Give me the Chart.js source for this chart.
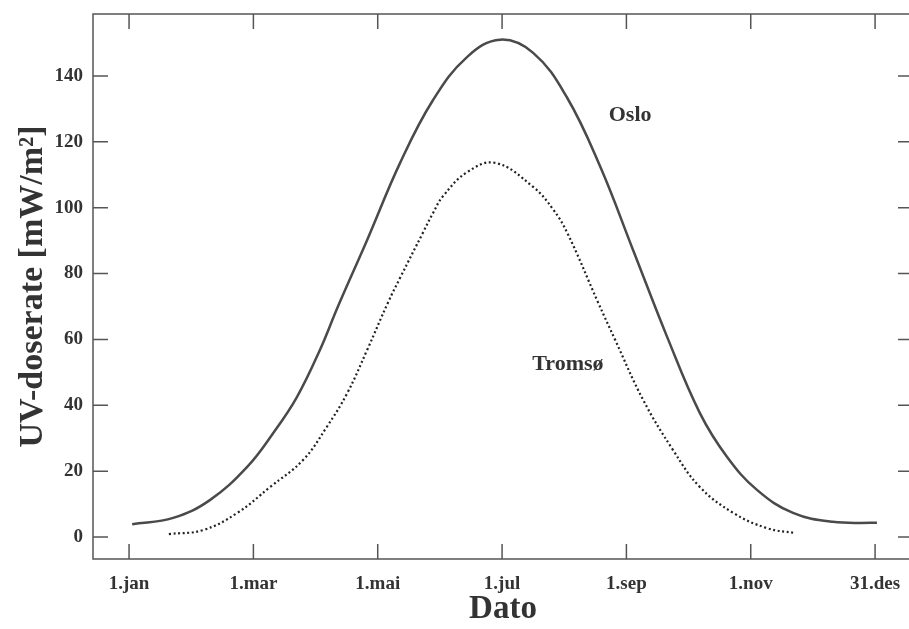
<!DOCTYPE html>
<html lang="no">
<head>
    <meta charset="UTF-8">
    <title>UV-doserate Oslo og Tromsø</title>
    <script src="https://cdn.jsdelivr.net/npm/chart.js"></script>
    <style>
        html, body { margin: 0; padding: 0; background: #fff; overflow: hidden; }
        #boks { width: 913px; height: 629px; }
    </style>
</head>
<body>
    <div id="boks"><canvas id="graf"></canvas></div>

    <script>
        // x = måneder etter 1.jan (1.jan = 0, 31.des = 12)
        let datoTikk = [0, 2, 4, 6, 8, 10, 12];
        let datoNavn = ["1.jan", "1.mar", "1.mai", "1.jul", "1.sep", "1.nov", "31.des"];
        let doseTikk = [0, 20, 40, 60, 80, 100, 120, 140];

        let osloX = [0.05, 0.71, 1.30, 1.90, 2.32, 2.70, 3.07, 3.36, 3.83, 4.36, 4.89, 5.44, 5.97,
                     6.50, 7.04, 7.58, 8.11, 8.65, 9.18, 9.62, 10.10, 10.68, 11.32, 12.03];
        let osloY = [3.9, 5.8, 11.2, 21.3, 31.6, 42.5, 56.8, 70.0, 90.2, 113.6, 132.7, 145.8, 151.0,
                     147.0, 133.6, 112.4, 87.0, 61.0, 37.7, 24.3, 14.3, 7.3, 4.6, 4.3];

        let tromsoX = [0.64, 1.19, 1.74, 2.27, 2.80, 3.18, 3.51, 3.83, 4.17, 4.36, 4.73, 4.89, 5.05, 5.44, 5.89,
                       6.50, 6.82, 7.05, 7.54, 7.82, 8.27, 8.75, 9.18, 9.72, 10.26, 10.71];
        let tromsoY = [0.9, 2.1, 7.3, 15.2, 23.4, 33.4, 43.7, 56.8, 71.4, 78.7, 92.5, 98.4, 103.5, 110.8, 113.6,
                       106.3, 99.5, 92.3, 71.4, 59.8, 41.6, 26.4, 15.2, 7.3, 2.7, 1.2];

        const serif = "'Liberation Serif', 'DejaVu Serif', serif";
        const farge = "#333";

        function punkter(xs, ys) {
            return xs.map((x, i) => ({ x: x, y: ys[i] }));
        }

        // ramme med tikk innover, og navn på kurvene
        const ramme = {
            id: "ramme",
            afterDraw(chart) {
                const ctx = chart.ctx;
                const { left, right, top, bottom } = chart.chartArea;
                const sx = chart.scales.x, sy = chart.scales.y;
                const t = 15;
                ctx.save();
                ctx.strokeStyle = "#555";
                ctx.lineWidth = 1.5;
                ctx.strokeRect(left, top, right - left, bottom - top);
                ctx.beginPath();
                datoTikk.forEach(v => {
                    let px = sx.getPixelForValue(v);
                    ctx.moveTo(px, bottom); ctx.lineTo(px, bottom - t);
                    ctx.moveTo(px, top); ctx.lineTo(px, top + t);
                });
                doseTikk.forEach(v => {
                    let py = sy.getPixelForValue(v);
                    ctx.moveTo(left, py); ctx.lineTo(left + t, py);
                    ctx.moveTo(right, py); ctx.lineTo(right - t, py);
                });
                ctx.stroke();

                ctx.fillStyle = farge;
                ctx.font = "bold 22px " + serif;
                ctx.textAlign = "center";
                ctx.textBaseline = "middle";
                ctx.fillText("Oslo", sx.getPixelForValue(8.06), sy.getPixelForValue(128));
                ctx.fillText("Tromsø", sx.getPixelForValue(7.06), sy.getPixelForValue(52.5));
                ctx.restore();
            }
        };

        new Chart(document.getElementById("graf"), {
            type: "line",
            data: {
                datasets: [
                    {
                        label: "Oslo",
                        data: punkter(osloX, osloY),
                        borderColor: "#4a4a4a",
                        borderWidth: 2.5,
                        pointRadius: 0,
                        tension: 0.4,
                        fill: false
                    },
                    {
                        label: "Tromsø",
                        data: punkter(tromsoX, tromsoY),
                        borderColor: "#222",
                        borderWidth: 2.2,
                        borderDash: [2, 2.6],
                        pointRadius: 0,
                        tension: 0.4,
                        fill: false
                    }
                ]
            },
            options: {
                responsive: true,
                maintainAspectRatio: false,
                animation: false,
                layout: { padding: { top: 14, right: 0, left: 0, bottom: 0 } },
                plugins: { legend: { display: false }, tooltip: { enabled: false } },
                scales: {
                    x: {
                        type: "linear",
                        min: -0.58,
                        max: 12.61,
                        grid: { display: false, drawTicks: false },
                        border: { display: false },
                        afterBuildTicks: s => { s.ticks = datoTikk.map(v => ({ value: v })); },
                        afterFit: s => { s.height = 70; s.paddingLeft = 0; s.paddingRight = 0; },
                        ticks: {
                            padding: 14,
                            maxRotation: 0,
                            color: farge,
                            font: { family: serif, size: 19, weight: "bold" },
                            callback: v => datoNavn[datoTikk.indexOf(v)]
                        },
                        title: {
                            display: true,
                            text: "Dato",
                            color: farge,
                            padding: { top: 0, bottom: 0 },
                            font: { family: serif, size: 33, weight: "bold" }
                        }
                    },
                    y: {
                        min: -6.68,
                        max: 158.8,
                        grid: { display: false, drawTicks: false },
                        border: { display: false },
                        afterBuildTicks: s => { s.ticks = doseTikk.map(v => ({ value: v })); },
                        afterFit: s => { s.width = 93; s.paddingTop = 0; s.paddingBottom = 0; },
                        ticks: {
                            padding: 10,
                            color: farge,
                            font: { family: serif, size: 19, weight: "bold" }
                        },
                        title: {
                            display: true,
                            text: "UV-doserate [mW/m²]",
                            color: farge,
                            padding: { top: 13, bottom: 0 },
                            font: { family: serif, size: 34, weight: "bold" }
                        }
                    }
                }
            },
            plugins: [ramme]
        });
    </script>
</body>
</html>
